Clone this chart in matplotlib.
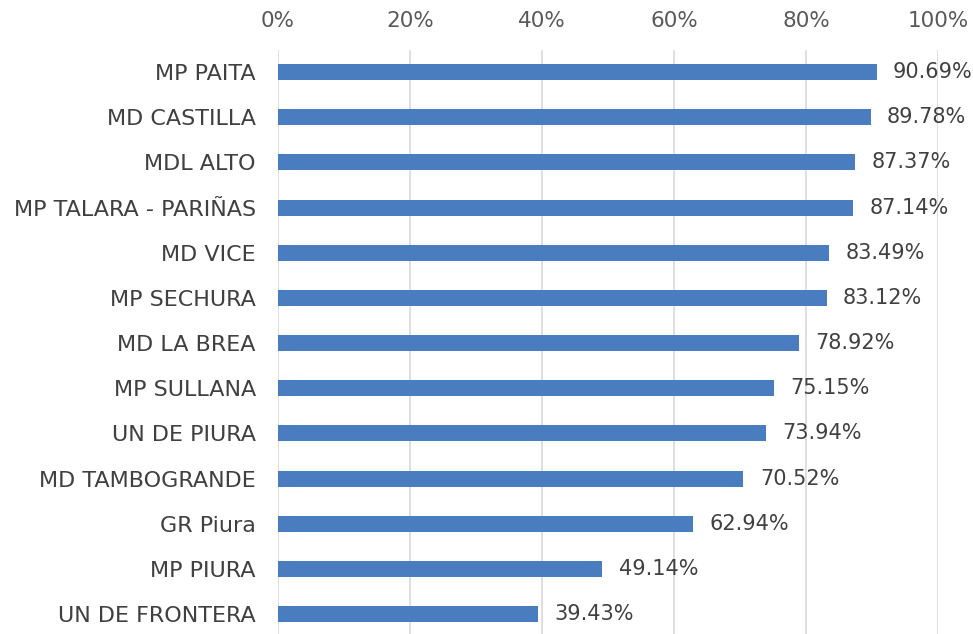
import matplotlib
matplotlib.use("Agg")
import matplotlib.pyplot as plt
from matplotlib.ticker import FuncFormatter

entidades = ["MP PAITA", "MD CASTILLA", "MDL ALTO", "MP TALARA - PARIÑAS", "MD VICE",
             "MP SECHURA", "MD LA BREA", "MP SULLANA", "UN DE PIURA", "MD TAMBOGRANDE",
             "GR Piura", "MP PIURA", "UN DE FRONTERA"]
avance = [90.69, 89.78, 87.37, 87.14, 83.49, 83.12, 78.92, 75.15, 73.94, 70.52,
          62.94, 49.14, 39.43]
ticks = [0, 20, 40, 60, 80, 100]

plt.rcParams['font.family'] = ['DejaVu Sans']

fig = plt.figure(figsize=(9.73, 6.34), dpi=100)
ax = fig.add_axes([278 / 973, 0, 660 / 973, 1 - 50 / 634])

pos = list(range(len(entidades)))
ax.barh(pos, avance, height=0.354, color="#4a7dc0", zorder=3)
for p, v in zip(pos, avance):
    ax.text(v + 2.5, p, f"{v:.2f}%", va="center", ha="left", fontsize=15, color="#404040")

ax.set_xlim(0, 100)
ax.set_ylim(len(entidades) - 1 + 0.44, -0.487)
ax.set_xticks(ticks)
ax.xaxis.set_major_formatter(FuncFormatter(lambda x, _: f"{x:.0f}%"))
ax.xaxis.tick_top()
ax.tick_params(axis="x", length=0, pad=14, labelsize=15.5, labelcolor="#595959")
ax.set_yticks(pos)
ax.set_yticklabels(entidades)
ax.tick_params(axis="y", length=0, pad=16, labelsize=16, labelcolor="#404040")
ax.grid(axis="x", color="#d9d9d9", linewidth=1.2, zorder=0)
for s in ax.spines.values():
    s.set_visible(False)

fig.savefig("out.png", dpi=100)
